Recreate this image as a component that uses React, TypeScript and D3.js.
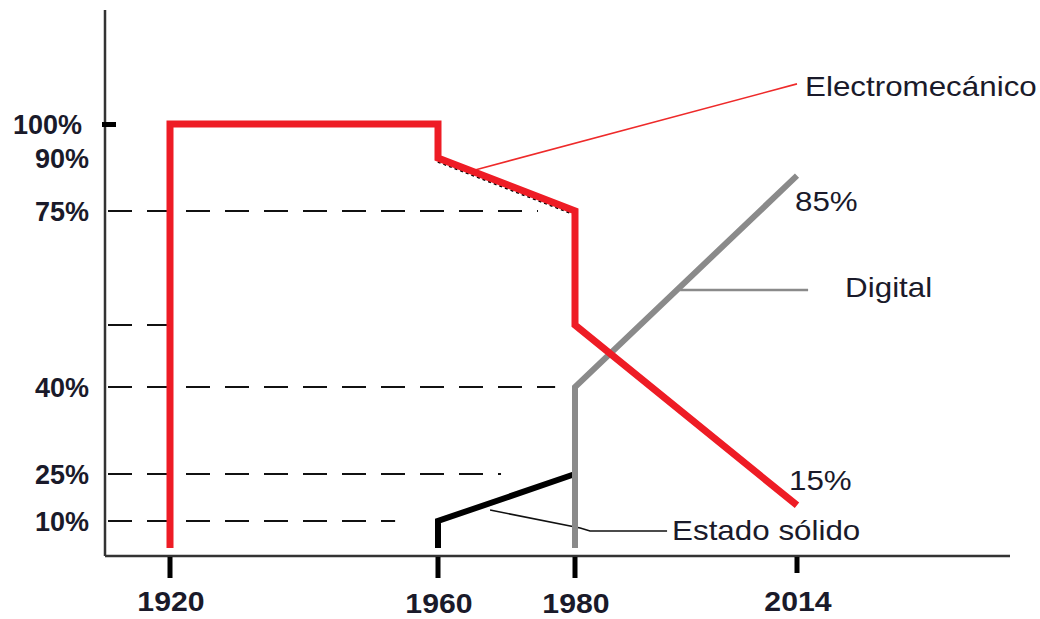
import { scaleLinear, line as d3line } from "d3";

// years on the x axis and the labelled percentages on the y axis
const yearTicks = [1920, 1960, 1980, 2014];
const pctTicks = [100, 90, 75, 40, 25, 10];

// series: [year, percent]
const electromecanico: [number, number][] = [
  [1920, 0],
  [1920, 100],
  [1960, 100],
  [1960, 90],
  [1980, 75],
  [1980, 50],
  [2014, 15],
];
const digital: [number, number][] = [
  [1980, 0],
  [1980, 40],
  [2014, 85],
];
const estadoSolido: [number, number][] = [
  [1960, 0],
  [1960, 10],
  [1980, 25],
];

// dashed guides: percent level and the year where the dashes stop
const guideLevels = [75, 50, 40, 25, 10];
const guideEnds = [1974.6, 1920.6, 1977.1, 1969.2, 1953.6];

// leader lines (year, percent) and their labels
const leaders = [
  { label: "Electromecánico", color: "#ee2a2a", pts: [[1965.4, 86.6], [2014, 111.8]], dx: 8, dy: 12 },
  { label: "Digital", color: "#8a8a8a", pts: [[1996.1, 57.7], [2015.7, 57.7]], dx: 37, dy: 7 },
  {
    label: "Estado sólido",
    color: "#111",
    pts: [[1967.6, 13.5], [1980.8, 7.4], [1982.3, 6.3], [1994.1, 6.3]],
    dx: 5,
    dy: 9,
  },
];

const valueLabels = [
  { text: "85%", year: 2014, value: 85, dx: -2, dy: 35 },
  { text: "15%", year: 2014, value: 15, dx: -8, dy: -15 },
];

const W = 1040;
const H = 619;
const axisX = 105;
const axisY = 556;
const stretch = 1.12; // the original lettering is slightly wide

export default function App() {
  // hand-drawn chart: the spacing between ticks is not uniform
  const x = scaleLinear().domain(yearTicks).range([170, 438, 575, 797]);
  const y = scaleLinear()
    .domain([0, 10, 25, 40, 50, 75, 90, 100])
    .range([548, 521, 474, 387, 325, 211, 158, 124]);

  const line = d3line<[number, number]>()
    .x((d) => x(d[0]))
    .y((d) => y(d[1]));

  const font = "Arial, 'Liberation Sans', sans-serif";
  const textColor = "#1a1a2a";

  const wide = (tx: number, ty: number) => `translate(${tx},${ty}) scale(${stretch},1)`;

  return (
    <svg
      width={W}
      height={H}
      style={{ position: "absolute", left: 0, top: 0, background: "#fff" }}
      fontFamily={font}
    >
      {/* dashed guides */}
      {guideLevels.map((v, i) => (
        <line
          key={v}
          x1={axisX + 3}
          x2={x(guideEnds[i])}
          y1={y(v)}
          y2={y(v)}
          stroke="#111"
          strokeWidth={1.8}
          strokeDasharray="24 15"
        />
      ))}

      {/* axes */}
      <line x1={axisX} x2={axisX} y1={10} y2={axisY} stroke="#333" strokeWidth={2.5} />
      <line x1={axisX} x2={1010} y1={axisY} y2={axisY} stroke="#333" strokeWidth={2.5} />
      <rect x={axisX - 3} y={y(100) - 2} width={14} height={5} fill="#000" />

      {yearTicks.map((t) => (
        <g key={t}>
          <rect x={x(t) - 2.5} y={axisY + 1} width={5} height={t === 2014 ? 16 : 21} fill="#000" />
          <text
            transform={wide(x(t) + 1, t === 1920 || t === 2014 ? 611 : 613)}
            textAnchor="middle"
            fontSize={27}
            fontWeight="bold"
            fill={textColor}
          >
            {t}
          </text>
        </g>
      ))}

      {pctTicks.map((p) => (
        <text
          key={p}
          x={p === 100 ? 82 : 89}
          y={y(p) + 10}
          textAnchor="end"
          fontSize={27}
          fontWeight="bold"
          fill={textColor}
        >
          {p}%
        </text>
      ))}

      {/* leader lines */}
      {leaders.map((l) => {
        const pts = l.pts.map((p) => [x(p[0]), y(p[1])] as [number, number]);
        const end = pts[pts.length - 1];
        return (
          <g key={l.label}>
            <path
              d={d3line()(pts) ?? ""}
              fill="none"
              stroke={l.color}
              strokeWidth={l.label === "Digital" ? 2.5 : 1.6}
            />
            <text transform={wide(end[0] + l.dx, end[1] + l.dy)} fontSize={28} fill={textColor}>
              {l.label}
            </text>
          </g>
        );
      })}

      {/* series */}
      <path d={line(estadoSolido) ?? ""} fill="none" stroke="#000" strokeWidth={6} />
      <path d={line(digital) ?? ""} fill="none" stroke="#8a8a8a" strokeWidth={6} />
      <path
        d={line(electromecanico.slice(2, 5)) ?? ""}
        fill="none"
        stroke="#000"
        strokeWidth={2}
        strokeDasharray="3 3"
        transform="translate(-2,3)"
      />
      <path d={line(electromecanico) ?? ""} fill="none" stroke="#ee1c25" strokeWidth={7} />

      {valueLabels.map((v) => (
        <text
          key={v.text}
          transform={wide(x(v.year) + v.dx, y(v.value) + v.dy)}
          fontSize={28}
          fill={textColor}
        >
          {v.text}
        </text>
      ))}
    </svg>
  );
}
